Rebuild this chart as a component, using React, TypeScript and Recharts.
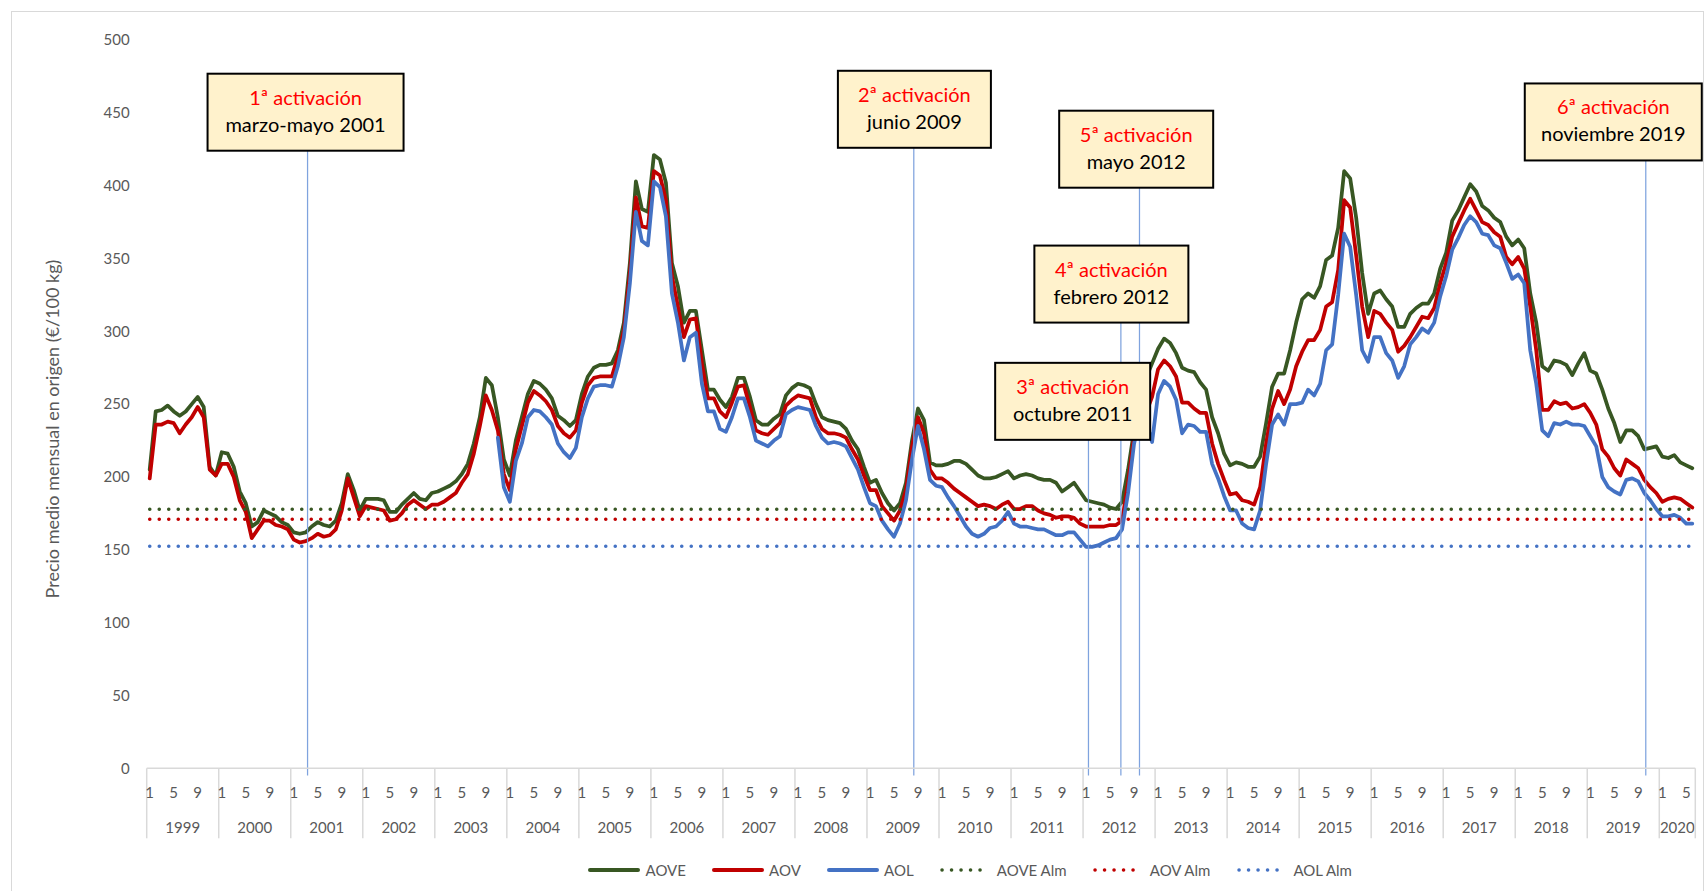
import React from 'react';
import { LineChart, Line, XAxis, YAxis, ReferenceLine } from 'recharts';

// categories: months from Jan 1999 to Jun 2020
const years = ['1999', '2000', '2001', '2002', '2003', '2004', '2005', '2006', '2007', '2008', '2009',
  '2010', '2011', '2012', '2013', '2014', '2015', '2016', '2017', '2018', '2019', '2020'];
const monthTicks = [{ m: 0, label: '1' }, { m: 4, label: '5' }, { m: 8, label: '9' }];
const MONTHS = 258;

// €/100 kg, one row per year
const aove = [
  205, 245, 246, 249, 245, 242, 245, 250, 255, 248, 207, 201,
  217, 216, 207, 190, 182, 166, 169, 177, 175, 173, 169, 167,
  162, 161, 162, 166, 169, 167, 166, 170, 182, 202, 191, 177,
  185, 185, 185, 184, 176, 176, 181, 185, 189, 185, 184, 189,
  190, 192, 194, 197, 202, 209, 223, 241, 268, 263, 241, 212,
  201, 225, 241, 257, 266, 264, 260, 254, 242, 239, 235, 239,
  257, 269, 275, 277, 277, 278, 287, 306, 347, 403, 384, 382,
  421, 418, 402, 347, 331, 306, 314, 314, 287, 260, 260, 253,
  248, 255, 268, 268, 255, 239, 236, 236, 240, 243, 256, 261,
  264, 263, 261, 250, 241, 239, 238, 237, 233, 225, 219, 207,
  196, 198, 189, 182, 177, 182, 196, 225, 247, 239, 210, 208,
  208, 209, 211, 211, 209, 205, 201, 199, 199, 200, 202, 204,
  199, 201, 202, 201, 199, 198, 198, 196, 190, 193, 196, 190,
  184, 183, 182, 181, 179, 178, 183, 205, 232, 258, 268, 278,
  288, 295, 292, 285, 275, 273, 272, 265, 260, 241, 230, 216,
  208, 210, 209, 207, 207, 214, 237, 262, 271, 271, 287, 306,
  322, 326, 323, 331, 349, 352, 371, 410, 405, 378, 340, 312,
  326, 328, 322, 317, 303, 303, 312, 316, 319, 319, 326, 343,
  354, 376, 383, 392, 401, 396, 386, 383, 378, 375, 365, 359,
  363, 357, 326, 306, 276, 273, 280, 279, 277, 270, 278, 285,
  273, 271, 260, 247, 237, 224, 232, 232, 228, 219, 220, 221,
  214, 213, 215, 210, 208, 206,
];

const aov = [
  199, 236, 236, 238, 237, 230, 236, 241, 248, 241, 205, 201,
  209, 209, 200, 184, 176, 158, 164, 170, 170, 167, 166, 164,
  157, 155, 156, 158, 161, 159, 160, 164, 177, 199, 186, 173,
  180, 179, 178, 177, 170, 171, 175, 181, 184, 181, 178, 181,
  181, 183, 186, 189, 196, 202, 216, 235, 256, 246, 232, 202,
  191, 219, 235, 251, 259, 256, 252, 246, 235, 230, 227, 232,
  251, 263, 268, 269, 269, 269, 283, 301, 340, 392, 372, 371,
  410, 407, 390, 338, 317, 296, 308, 309, 278, 254, 254, 245,
  241, 251, 262, 263, 248, 232, 230, 229, 233, 237, 249, 253,
  256, 255, 254, 241, 233, 230, 230, 229, 227, 219, 212, 201,
  191, 191, 180, 175, 170, 177, 191, 221, 241, 230, 205, 199,
  199, 196, 192, 189, 186, 183, 180, 181, 180, 178, 181, 183,
  178, 178, 180, 180, 177, 175, 174, 172, 173, 173, 172, 168,
  166, 166, 166, 166, 167, 167, 170, 196, 228, 244, 244, 255,
  274, 280, 276, 269, 251, 251, 247, 244, 244, 223, 209, 198,
  188, 189, 184, 183, 181, 193, 223, 247, 259, 250, 260, 276,
  286, 294, 294, 301, 317, 320, 342, 390, 385, 352, 317, 296,
  314, 312, 306, 301, 286, 290, 296, 303, 310, 309, 316, 333,
  347, 365, 374, 383, 391, 383, 375, 373, 368, 365, 351, 346,
  351, 343, 317, 287, 246, 246, 252, 250, 251, 247, 248, 250,
  244, 236, 219, 214, 206, 201, 212, 209, 206, 198, 193, 189,
  183, 185, 186, 185, 182, 179,
];

// AOL series starts in Nov 2003
const AOL_FIRST = 58;
const aol = [
  227, 193,
  183, 211, 223, 241, 246, 245, 241, 236, 223, 217, 213, 220,
  241, 254, 262, 263, 263, 262, 276, 296, 333, 382, 362, 359,
  403, 399, 379, 326, 306, 280, 296, 299, 264, 245, 245, 233,
  231, 241, 254, 254, 241, 225, 223, 221, 225, 228, 243, 246,
  248, 247, 246, 235, 227, 223, 224, 223, 221, 213, 205, 193,
  182, 180, 170, 164, 159, 168, 184, 212, 235, 219, 198, 194,
  193, 186, 180, 173, 166, 161, 159, 161, 165, 166, 170, 176,
  168, 166, 166, 165, 164, 164, 162, 160, 160, 162, 162, 157,
  152, 152, 153, 155, 157, 158, 164, 189, 223, 240, 238, 224,
  257, 266, 262, 253, 230, 236, 235, 231, 231, 209, 199, 187,
  177, 177, 168, 165, 164, 177, 209, 236, 243, 236, 250, 250,
  251, 260, 256, 264, 287, 291, 325, 367, 358, 325, 287, 279,
  296, 296, 285, 280, 268, 276, 291, 296, 302, 299, 306, 324,
  338, 356, 364, 373, 379, 375, 367, 366, 359, 357, 347, 336,
  339, 333, 287, 264, 232, 228, 237, 236, 238, 236, 236, 235,
  228, 221, 200, 193, 190, 188, 198, 199, 197, 189, 184, 178,
  173, 173, 174, 172, 168, 168,
];

// private storage trigger prices
const aoveAlm = 177.9;
const aovAlm = 171.0;
const aolAlm = 152.4;

const yTicks = [0, 50, 100, 150, 200, 250, 300, 350, 400, 450, 500];

// activation callouts (month index where the pointer sits)
const activations = [
  { i: 26.3, title: '1ª activación', text: 'marzo-mayo 2001', top: 424, w: 196, dx: -2 },
  { i: 127.3, title: '2ª activación', text: 'junio 2009', top: 426, w: 153, dx: 0.6 },
  { i: 249.25, title: '6ª activación', text: 'noviembre 2019', top: 417.3, w: 177, dx: -32.5 },
  { i: 164.9, title: '5ª activación', text: 'mayo 2012', top: 398.6, w: 154, dx: -3.3 },
  { i: 161.8, title: '4ª activación', text: 'febrero 2012', top: 306, w: 154, dx: -9.5 },
  { i: 156.4, title: '3ª activación', text: 'octubre 2011', top: 225.5, w: 155, dx: -15.8 },
];

const GREEN = '#385723';
const RED = '#C00000';
const BLUE = '#4472C4';
const GREY = '#595959';
const FONT = 'Lato, "Open Sans", sans-serif';

const series = [
  { key: 'aove', name: 'AOVE', color: GREEN, dotted: false },
  { key: 'aov', name: 'AOV', color: RED, dotted: false },
  { key: 'aol', name: 'AOL', color: BLUE, dotted: false },
  { key: 'aoveAlm', name: 'AOVE Alm', color: GREEN, dotted: true },
  { key: 'aovAlm', name: 'AOV Alm', color: RED, dotted: true },
  { key: 'aolAlm', name: 'AOL Alm', color: BLUE, dotted: true },
];

const rows = Array.from({ length: MONTHS }, (_, i) => ({
  i,
  aove: aove[i],
  aov: aov[i],
  aol: i >= AOL_FIRST ? aol[i - AOL_FIRST] : null,
  aoveAlm,
  aovAlm,
  aolAlm,
}));

// x axis: month labels, year labels and year separators
type TickInfo = { v: number; kind: 'sep' | 'month' | 'year'; text?: string };
const tickInfo: TickInfo[] = [];
years.forEach((yr, k) => {
  const start = k * 12;
  const end = Math.min(start + 12, MONTHS);
  tickInfo.push({ v: start - 0.5, kind: 'sep' });
  monthTicks.forEach((t) => {
    if (start + t.m < MONTHS) tickInfo.push({ v: start + t.m, kind: 'month', text: t.label });
  });
  tickInfo.push({ v: (start + end - 1) / 2, kind: 'year', text: yr });
});
tickInfo.push({ v: MONTHS - 0.5, kind: 'sep' });
const tickMap = new Map(tickInfo.map((t) => [t.v, t]));
const xTicks = tickInfo.map((t) => t.v).sort((a, b) => a - b);

const AxisTick = (props: any) => {
  const { x, y, payload } = props;
  const info = tickMap.get(payload.value);
  if (!info) return <g />;
  if (info.kind === 'sep') {
    return <line x1={x} x2={x} y1={y} y2={y + 70} stroke="#d9d9d9" strokeWidth={1.5} />;
  }
  return (
    <text
      x={x}
      y={y + (info.kind === 'month' ? 24 : 59)}
      textAnchor="middle"
      dominantBaseline="central"
      fill={GREY}
      fontSize={15}
      fontFamily={FONT}
    >
      {info.text}
    </text>
  );
};

const Callout = (props: any) => {
  const { viewBox, a } = props;
  if (!viewBox) return <g />;
  const h = 77;
  const cx = viewBox.x + a.dx;
  const top = viewBox.y - h;
  return (
    <g>
      <rect x={cx - a.w / 2} y={top} width={a.w} height={h} fill="#FFF2CC" stroke="#000" strokeWidth={2} />
      <text x={cx} y={top + 23} textAnchor="middle" dominantBaseline="central" fill="#FF0000" fontSize={20} fontFamily={FONT}>
        {a.title}
      </text>
      <text x={cx} y={top + 50} textAnchor="middle" dominantBaseline="central" fill="#000" fontSize={20} fontFamily={FONT}>
        {a.text}
      </text>
    </g>
  );
};

const LegendSample = ({ color, dotted }: { color: string; dotted: boolean }) => (
  <svg width={52} height={10} style={{ display: 'block' }}>
    {dotted ? (
      <line x1={3} x2={50} y1={5} y2={5} stroke={color} strokeWidth={3.5} strokeLinecap="round" strokeDasharray="0.1 9.4" />
    ) : (
      <line x1={2} x2={50} y1={5} y2={5} stroke={color} strokeWidth={4} strokeLinecap="round" />
    )}
  </svg>
);

export default function App() {
  return (
    <div style={{ position: 'absolute', left: 0, top: 0, width: 1704, height: 891, background: '#fff', overflow: 'hidden', fontFamily: FONT }}>
      <div style={{ position: 'absolute', left: 11, top: 11, width: 1691, height: 900, border: '1px solid #d9d9d9' }} />

      <div
        style={{
          position: 'absolute', left: 52, top: 429, transform: 'translate(-50%, -50%) rotate(-90deg)',
          whiteSpace: 'nowrap', fontSize: 18, color: GREY,
        }}
      >
        Precio medio mensual en origen (€/100 kg)
      </div>

      <div style={{ position: 'absolute', left: 0, top: 0 }}>
        <LineChart width={1704} height={891} data={rows} margin={{ top: 40, right: 8.7, bottom: 42.7, left: 86.7 }}>
          <XAxis
            dataKey="i"
            type="number"
            domain={[-0.5, MONTHS - 0.5]}
            ticks={xTicks}
            interval={0}
            height={80}
            tickLine={false}
            tickSize={0}
            tickMargin={0}
            axisLine={{ stroke: '#d9d9d9', strokeWidth: 1.5 }}
            tick={<AxisTick />}
          />
          <YAxis
            domain={[0, 500]}
            ticks={yTicks}
            width={60}
            axisLine={false}
            tickLine={false}
            tickSize={0}
            tickMargin={17}
            tick={{ fill: GREY, fontSize: 15, fontFamily: FONT }}
          />
          {series.map((s) => (
            <Line
              key={s.key}
              type="linear"
              dataKey={s.key}
              name={s.name}
              stroke={s.color}
              strokeWidth={s.dotted ? 3.5 : 3.75}
              strokeDasharray={s.dotted ? '0.1 9.4' : undefined}
              strokeLinecap="round"
              strokeLinejoin="round"
              dot={false}
              activeDot={false}
              isAnimationActive={false}
            />
          ))}
          {activations.map((a) => (
            <ReferenceLine
              key={a.title}
              segment={[{ x: a.i, y: -5 }, { x: a.i, y: a.top }]}
              ifOverflow="visible"
              stroke="#7FA3DE"
              strokeWidth={1.25}
              label={<Callout a={a} />}
            />
          ))}
        </LineChart>
      </div>

      <div style={{ position: 'absolute', left: 588, top: 860, display: 'flex', alignItems: 'center', height: 20 }}>
        {series.map((s) => (
          <div key={s.key} style={{ display: 'flex', alignItems: 'center', marginRight: 25.7 }}>
            <LegendSample color={s.color} dotted={s.dotted} />
            <span style={{ marginLeft: 5.5, fontSize: 15, color: GREY, lineHeight: '20px' }}>{s.name}</span>
          </div>
        ))}
      </div>
    </div>
  );
}
